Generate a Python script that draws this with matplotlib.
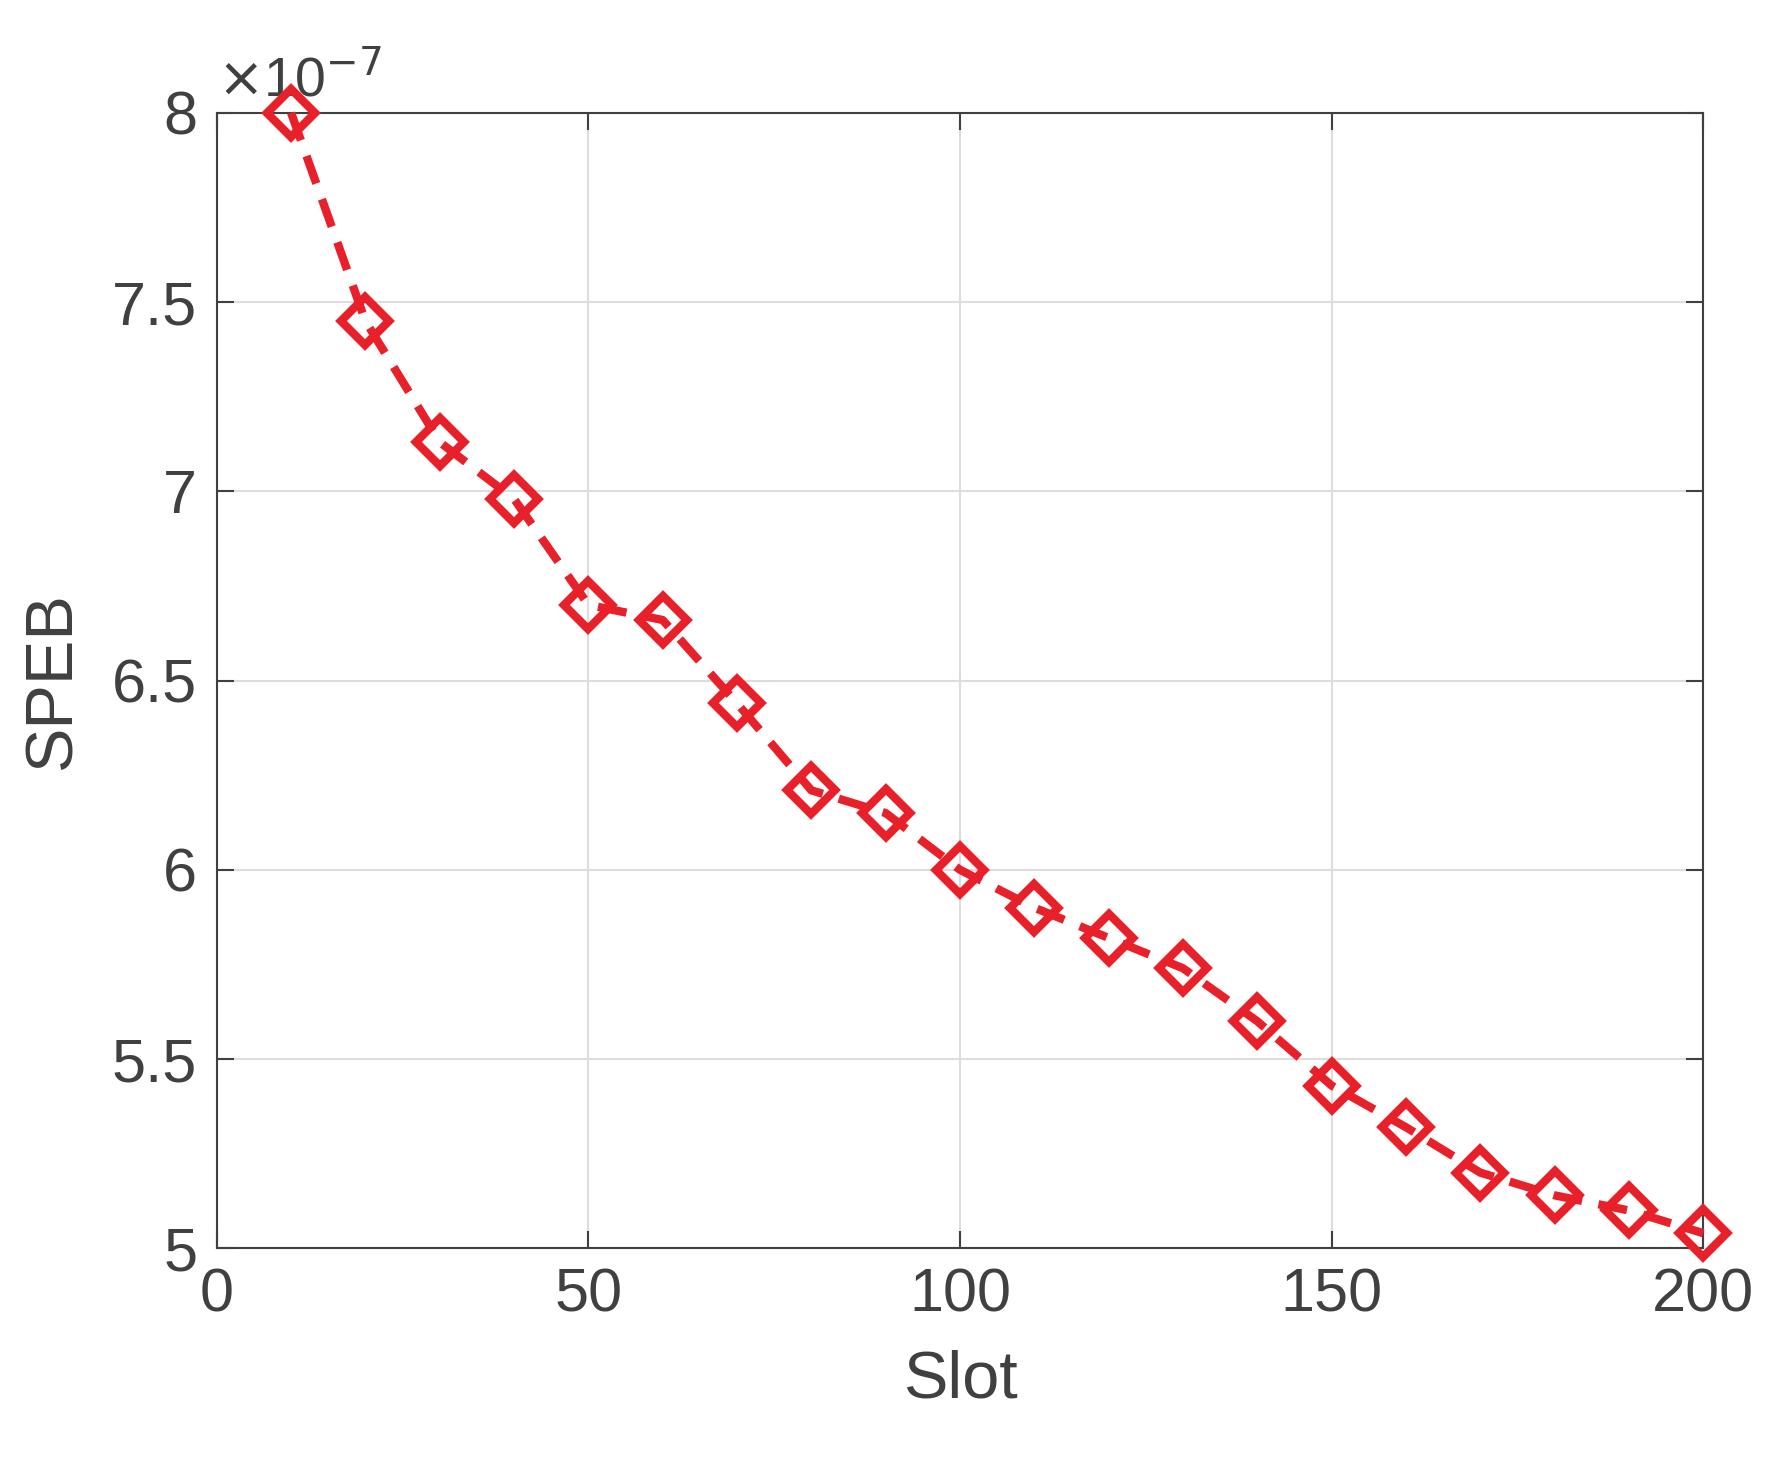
import numpy as np
import matplotlib.pyplot as plt

plt.rcParams['font.family'] = ['Liberation Sans', 'DejaVu Sans']

slots = [10, 20, 30, 40, 50, 60, 70, 80, 90, 100, 110, 120, 130, 140, 150, 160, 170, 180, 190, 200]
speb = [8.00, 7.45, 7.13, 6.98, 6.70, 6.66, 6.44, 6.21, 6.15, 6.00,
        5.90, 5.82, 5.74, 5.60, 5.43, 5.32, 5.20, 5.14, 5.10, 5.04]
speb = np.array(speb) * 1e-7

fig = plt.figure(figsize=(17.71, 14.6), dpi=100)
ax = fig.add_axes([0.1224, 0.145, 0.8393, 0.7777])
gray = '#404040'
ax.plot(slots, speb, color='#e8202a', linestyle='--', linewidth=6, dashes=(3.5, 2),
        marker='D', markersize=24, markerfacecolor='none', markeredgewidth=6,
        clip_on=False, zorder=5)
ax.set_xlim(0, 200)
ax.set_ylim(5e-7, 8e-7)
ax.set_xticks([0, 50, 100, 150, 200])
ax.set_yticks(np.array([5, 5.5, 6, 6.5, 7, 7.5, 8]) * 1e-7)
ax.set_yticklabels(['5', '5.5', '6', '6.5', '7', '7.5', '8'])
ax.grid(True, color='#dddddd', linewidth=1.5)
ax.tick_params(direction='in', length=12, width=1.5, top=True, right=True,
               labelsize=44, colors=gray, pad=14)
for s in ax.spines.values():
    s.set_color(gray)
    s.set_linewidth(1.5)
ax.set_xlabel('Slot', fontsize=48, color=gray, labelpad=18)
ax.set_ylabel('SPEB', fontsize=48, color=gray, labelpad=20)
ax.text(0.0, 1.005, r'$\times$10$^{-7}$', transform=ax.transAxes, fontsize=40,
        color=gray, ha='left', va='bottom')
fig.savefig('out.png')
